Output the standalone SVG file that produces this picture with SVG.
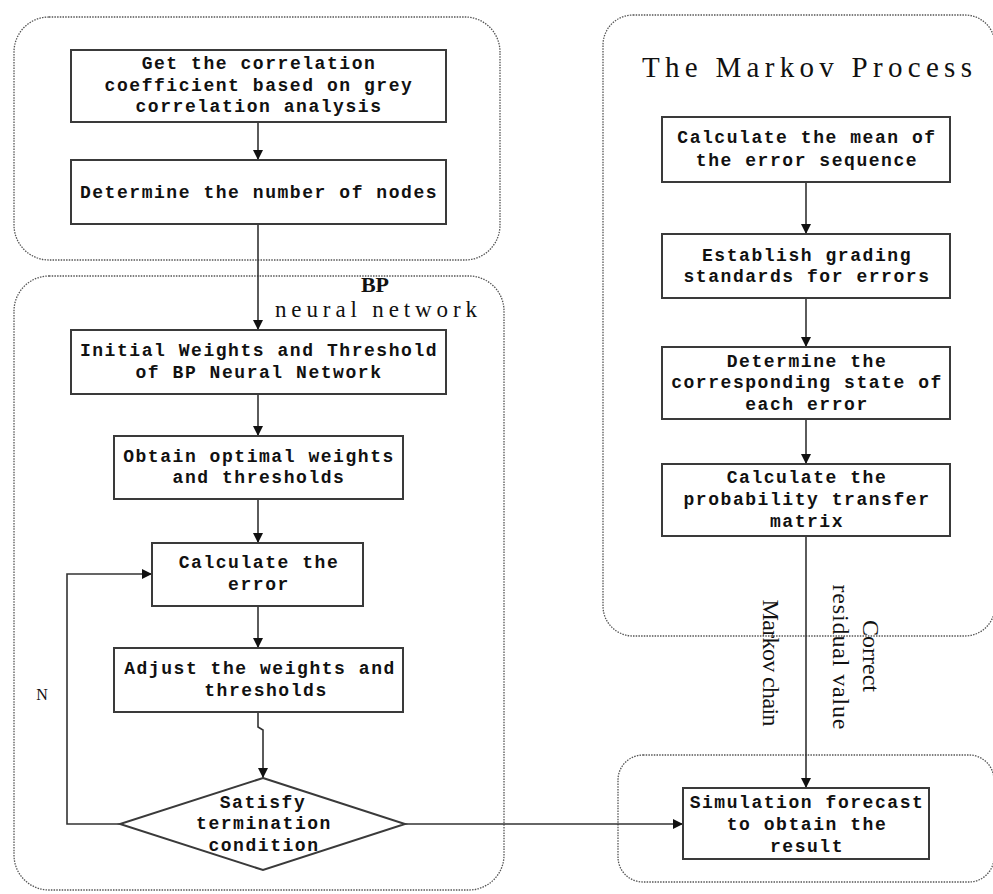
<svg xmlns="http://www.w3.org/2000/svg" width="993" height="894" viewBox="0 0 993 894">
<style>
.grp{fill:none;stroke:#555;stroke-width:1.3;stroke-dasharray:1.5 1.2}
.box{fill:#fff;stroke:#3a3a3a;stroke-width:2}
.t{font-family:"Liberation Mono","DejaVu Sans Mono",monospace;font-weight:bold;font-size:18px;letter-spacing:1.55px;text-anchor:middle;dominant-baseline:central;fill:#111}
.s{font-family:"Liberation Serif","DejaVu Serif",serif;fill:#111}
.c{fill:none;stroke:#333;stroke-width:1.6}
</style>
<defs>
<marker id="ah" viewBox="0 0 10 10" refX="10" refY="5" markerWidth="10" markerHeight="10" markerUnits="userSpaceOnUse" orient="auto">
<path d="M0,0 L10,5 L0,10 z" fill="#111"/>
</marker>
</defs>

<g id="containers">
<rect id="grp-top" class="grp" x="14" y="17" width="486" height="243" rx="35"/>
<rect id="grp-bp" class="grp" x="14" y="276" width="490" height="614" rx="35"/>
<rect id="grp-markov" class="grp" x="603" y="15" width="392" height="621" rx="30"/>
<rect id="grp-sim" class="grp" x="618" y="755" width="376" height="127" rx="25"/>
</g>

<g id="connectors">
<line class="c" x1="258" y1="122" x2="258" y2="160" marker-end="url(#ah)"/>
<line class="c" x1="258" y1="224" x2="258" y2="330" marker-end="url(#ah)"/>
<line class="c" x1="258" y1="394" x2="258" y2="436" marker-end="url(#ah)"/>
<line class="c" x1="258" y1="499" x2="258" y2="543" marker-end="url(#ah)"/>
<line class="c" x1="258" y1="606" x2="258" y2="648" marker-end="url(#ah)"/>
<polyline class="c" points="258,712 258,727 263,730 263,778" marker-end="url(#ah)"/>
<polyline class="c" points="120,824 67,824 67,574 152,574" marker-end="url(#ah)"/>
<line class="c" x1="405" y1="824" x2="683" y2="824" marker-end="url(#ah)"/>
<line class="c" x1="806" y1="182" x2="806" y2="234" marker-end="url(#ah)"/>
<line class="c" x1="806" y1="298" x2="806" y2="347" marker-end="url(#ah)"/>
<line class="c" x1="806" y1="419" x2="806" y2="464" marker-end="url(#ah)"/>
<line class="c" x1="806" y1="536" x2="806" y2="788" marker-end="url(#ah)"/>
</g>

<g id="labels">
<text class="s" x="375" y="292" font-size="22" font-weight="bold" text-anchor="middle">BP</text>
<text class="s" x="376" y="317" font-size="23" text-anchor="middle" textLength="202" lengthAdjust="spacing">neural network</text>
<text class="s" x="807" y="77" font-size="29" text-anchor="middle" textLength="330" lengthAdjust="spacing">The Markov Process</text>
<text class="s" x="42" y="700" font-size="16" text-anchor="middle" fill="#333">N</text>
<text class="s" font-size="24" text-anchor="middle" transform="translate(863,656) rotate(90)">Correct</text>
<text class="s" font-size="24" text-anchor="middle" textLength="145" lengthAdjust="spacing" transform="translate(833,657) rotate(90)">residual value</text>
<text class="s" font-size="24" text-anchor="middle" textLength="127" lengthAdjust="spacing" transform="translate(763,663) rotate(90)">Markov chain</text>
</g>

<g id="n1">
<rect class="box" x="71" y="50" width="375" height="72"/>
<text class="t" x="259" y="64">Get the correlation</text>
<text class="t" x="259" y="86">coefficient based on grey</text>
<text class="t" x="259" y="107">correlation analysis</text>
</g>
<g id="n2">
<rect class="box" x="71" y="160" width="375" height="64"/>
<text class="t" x="259" y="193">Determine the number of nodes</text>
</g>
<g id="n3">
<rect class="box" x="71" y="330" width="375" height="64"/>
<text class="t" x="259" y="351">Initial Weights and Threshold</text>
<text class="t" x="259" y="373">of BP Neural Network</text>
</g>
<g id="n4">
<rect class="box" x="114" y="436" width="289" height="63"/>
<text class="t" x="259" y="457">Obtain optimal weights</text>
<text class="t" x="259" y="478">and thresholds</text>
</g>
<g id="n5">
<rect class="box" x="152" y="543" width="211" height="63"/>
<text class="t" x="259" y="563">Calculate the</text>
<text class="t" x="259" y="585">error</text>
</g>
<g id="n6">
<rect class="box" x="114" y="648" width="289" height="64"/>
<text class="t" x="260" y="669">Adjust the weights and</text>
<text class="t" x="266" y="691">thresholds</text>
</g>
<g id="n7">
<polygon class="box" points="263,778 405,824 263,870 120,824"/>
<text class="t" x="263" y="803">Satisfy</text>
<text class="t" x="264" y="824">termination</text>
<text class="t" x="264" y="846">condition</text>
</g>
<g id="m1">
<rect class="box" x="662" y="117" width="288" height="65"/>
<text class="t" x="807" y="138">Calculate the mean of</text>
<text class="t" x="807" y="161">the error sequence</text>
</g>
<g id="m2">
<rect class="box" x="662" y="234" width="288" height="64"/>
<text class="t" x="807" y="256">Establish grading</text>
<text class="t" x="807" y="277">standards for errors</text>
</g>
<g id="m3">
<rect class="box" x="662" y="347" width="288" height="72"/>
<text class="t" x="807" y="362">Determine the</text>
<text class="t" x="807" y="383">corresponding state of</text>
<text class="t" x="807" y="405">each error</text>
</g>
<g id="m4">
<rect class="box" x="662" y="464" width="288" height="72"/>
<text class="t" x="807" y="478">Calculate the</text>
<text class="t" x="807" y="500">probability transfer</text>
<text class="t" x="807" y="522">matrix</text>
</g>
<g id="sim">
<rect class="box" x="683" y="788" width="246" height="71"/>
<text class="t" x="807" y="803">Simulation forecast</text>
<text class="t" x="807" y="825">to obtain the</text>
<text class="t" x="807" y="847">result</text>
</g>
</svg>
